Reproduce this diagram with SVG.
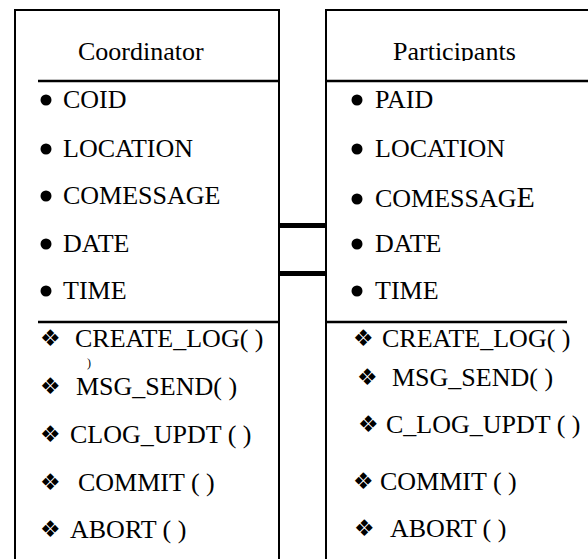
<svg xmlns="http://www.w3.org/2000/svg" width="588" height="559" viewBox="0 0 588 559">
<style>
.t{font-family:"Liberation Serif","Times New Roman",serif;font-size:26px;fill:#000}
.h{font-family:"Liberation Serif","Times New Roman",serif;font-size:26px;fill:#000}
.d{font-family:"DejaVu Sans",sans-serif;font-size:23px;fill:#000}
.b{stroke:#000;stroke-width:2;fill:none}
.dv{stroke:#000;stroke-width:2.5;fill:none}
.c{stroke:#000;stroke-width:5;fill:none}
</style>
<defs>
<clipPath id="clipP"><rect x="326" y="0" width="262" height="61"/></clipPath>
</defs>
<rect width="588" height="559" fill="#fff"/>
<g id="coordinator">
<path class="b" d="M15,570 V10 H279 V570"/>
<line class="dv" x1="38" y1="81" x2="279" y2="81"/>
<line class="dv" x1="38" y1="322" x2="279" y2="322"/>
<text class="h" x="78" y="60">Coordinator</text>
<circle cx="46" cy="100" r="5.5"/>
<text class="t" x="63" y="108">COID</text>
<circle cx="46" cy="149" r="5.5"/>
<text class="t" x="63" y="157">LOCATION</text>
<circle cx="46" cy="196" r="5.5"/>
<text class="t" x="63" y="204">COMESSAGE</text>
<circle cx="46" cy="244" r="5.5"/>
<text class="t" x="63" y="252">DATE</text>
<circle cx="46" cy="291" r="5.5"/>
<text class="t" x="63" y="299">TIME</text>
<text class="d" x="40" y="346">❖</text>
<text class="t" x="75" y="347">CREATE_LOG( )</text>
<text class="t" x="87" y="367" style="font-size:12px">)</text>
<text class="d" x="40" y="394">❖</text>
<text class="t" x="76" y="395">MSG_SEND( )</text>
<text class="d" x="40" y="442">❖</text>
<text class="t" x="70" y="443">CLOG_UPDT ( )</text>
<text class="d" x="40" y="490">❖</text>
<text class="t" x="78" y="491">COMMIT ( )</text>
<text class="d" x="40" y="537">❖</text>
<text class="t" x="70" y="538">ABORT ( )</text>
</g>
<g id="participants">
<path class="b" d="M326,570 V10 H590"/>
<line class="dv" x1="326" y1="81" x2="590" y2="81"/>
<line class="dv" x1="326" y1="322" x2="567" y2="322"/>
<text class="h" x="393" y="60" clip-path="url(#clipP)">Participants</text>
<circle cx="357" cy="100" r="5.5"/>
<text class="t" x="375" y="108">PAID</text>
<circle cx="357" cy="149" r="5.5"/>
<text class="t" x="375" y="157">LOCATION</text>
<circle cx="357" cy="199" r="5.5"/>
<text class="t" x="375" y="207">COMESSAG<tspan font-size="30">E</tspan></text>
<circle cx="357" cy="244" r="5.5"/>
<text class="t" x="375" y="252">DATE</text>
<circle cx="357" cy="291" r="5.5"/>
<text class="t" x="375" y="299">TIME</text>
<text class="d" x="353" y="346">❖</text>
<text class="t" x="382" y="347">CREATE_LOG( )</text>
<text class="d" x="357" y="385">❖</text>
<text class="t" x="392" y="386">MSG_SEND( )</text>
<text class="d" x="358" y="432">❖</text>
<text class="t" x="386" y="433">C_LOG_UPDT ( )</text>
<text class="d" x="353" y="489">❖</text>
<text class="t" x="380" y="490">COMMIT ( )</text>
<text class="d" x="354" y="536">❖</text>
<text class="t" x="390" y="537">ABORT ( )</text>
</g>
<g id="connectors">
<line class="c" x1="279" y1="225.5" x2="326" y2="225.5"/>
<line class="c" x1="279" y1="273.5" x2="326" y2="273.5"/>
</g>
</svg>
